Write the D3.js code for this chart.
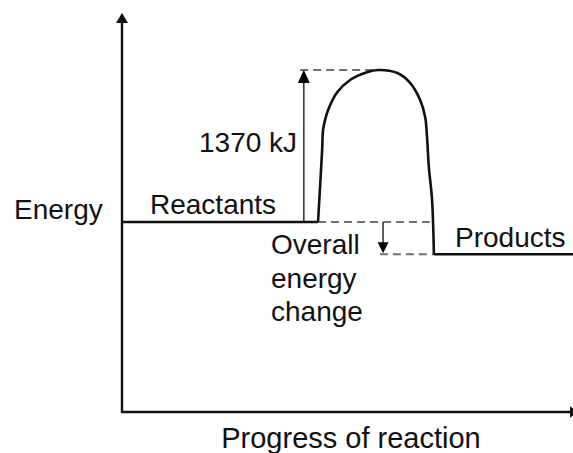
<!DOCTYPE html>
<html>
<head>
<meta charset="utf-8">
<script src="https://cdn.jsdelivr.net/npm/d3@7"></script>
<style>
  html, body { margin: 0; padding: 0; background: #fff; }
  svg { display: block; }
</style>
</head>
<body>
<svg id="diagram"></svg>
<script>
// energy profile data (energy in kJ, progress in arbitrary units 0..100)
const levelNames = ['Reactants', 'Products'];
const levelEnergy = [0, -290];
const levelFrom = [0, 68.1];
const levelTo = [42.8, 100];

const curveProgress = [42.8, 43.7, 43.9, 44.4, 45.0, 46.9, 49.8, 53.5, 55.9, 60.0, 62.9, 65.1, 66.2, 66.6, 67.0, 67.7, 68.1];
const curveEnergy = [0, 650, 830, 930, 1010, 1165, 1280, 1350, 1370, 1345, 1255, 1100, 945, 765, 495, 200, -290];

const activationEnergy = 1370;
const activationLabel = '1370 kJ';
const changeLabel = ['Overall', 'energy', 'change'];
const axisTitles = ['Progress of reaction', 'Energy'];

function validateSettings(settings) {
    settings.svg = settings.svg || document.getElementById(settings.id);
    settings.d3svg = d3.select(settings.svg);
    settings.width = settings.width || 573;
    settings.height = settings.height || 453;
    settings.fontSize = settings.fontSize || 28;
    settings.fontFamily = settings.fontFamily || '"Liberation Sans", Arial, sans-serif';
    settings.style = settings.style || {
        color: '#111',
        dashColor: '#707070',
        arrowColor: '#3a3a3a'
    };
    return settings;
}

function prepareScales(settings) {
    settings.x = d3.scaleLinear().domain([0, 100]).range([122, 580]);
    settings.y = d3.scaleLinear().domain([-1712, 1884]).range([412, 13]);
}

function arrowHead(g, x, y, w, h, dir, color) {
    // dir: 'up', 'down', 'right'
    let pts;
    if (dir === 'up') pts = [[x, y], [x - w / 2, y + h], [x + w / 2, y + h]];
    else if (dir === 'down') pts = [[x, y], [x - w / 2, y - h], [x + w / 2, y - h]];
    else pts = [[x, y], [x - h, y - w / 2], [x - h, y + w / 2]];
    g.append('path')
        .attr('d', 'M' + pts.map(p => p.join(',')).join('L') + 'Z')
        .attr('fill', color);
}

function drawAxis(settings) {
    let x = settings.x, y = settings.y, g = settings.g, c = settings.style.color;
    let x0 = x.range()[0], x1 = x.range()[1];
    let y0 = y.range()[0], y1 = y.range()[1];

    g.append('line')
        .attr('x1', x0).attr('y1', y0 + 1)
        .attr('x2', x0).attr('y2', y1 + 8)
        .style('stroke', c).style('stroke-width', 2.4);
    arrowHead(g, x0, y1, 12, 10, 'up', c);

    g.append('line')
        .attr('x1', x0 - 1).attr('y1', y0)
        .attr('x2', x1 - 8).attr('y2', y0)
        .style('stroke', c).style('stroke-width', 2.4);
    arrowHead(g, x1, y0, 11, 10, 'right', c);

    g.append('text')
        .attr('x', 351).attr('y', 448)
        .attr('text-anchor', 'middle')
        .style('font-size', (settings.fontSize + 1) + 'px')
        .text(axisTitles[0]);

    g.append('text')
        .attr('x', 14).attr('y', 219)
        .text(axisTitles[1]);
}

function drawDashes(settings) {
    let x = settings.x, y = settings.y, g = settings.g;
    let dashes = [
        [38.9, 55.9, activationEnergy],
        [42.8, 67.2, levelEnergy[0]],
        [56.3, 68.1, levelEnergy[1]]
    ];
    g.selectAll('.dash')
        .data(dashes).enter().append('line')
        .attr('class', 'dash')
        .attr('x1', d => x(d[0])).attr('x2', d => x(d[1]))
        .attr('y1', d => y(d[2])).attr('y2', d => y(d[2]))
        .style('stroke', settings.style.dashColor)
        .style('stroke-width', 2)
        .style('stroke-dasharray', '8,5');
}

function drawProfile(settings) {
    let x = settings.x, y = settings.y, g = settings.g, c = settings.style.color;

    g.selectAll('.level')
        .data(levelNames).enter().append('line')
        .attr('class', 'level')
        .attr('x1', (d, i) => x(levelFrom[i]))
        .attr('x2', (d, i) => x(levelTo[i]))
        .attr('y1', (d, i) => y(levelEnergy[i]))
        .attr('y2', (d, i) => y(levelEnergy[i]))
        .style('stroke', c).style('stroke-width', 2.4);

    let pts = curveProgress.map((p, i) => [p, curveEnergy[i]]);
    let line = d3.line()
        .x(d => x(d[0]))
        .y(d => y(d[1]))
        .curve(d3.curveCatmullRom.alpha(0.5));
    g.append('path')
        .attr('d', line(pts))
        .attr('fill', 'none')
        .style('stroke', c).style('stroke-width', 2.6)
        .style('stroke-linejoin', 'round');
}

function drawArrows(settings) {
    let x = settings.x, y = settings.y, g = settings.g, a = settings.style.arrowColor;

    // activation energy arrow
    let ax = x(39.7);
    g.append('line')
        .attr('x1', ax).attr('y1', y(levelEnergy[0]))
        .attr('x2', ax).attr('y2', y(activationEnergy) + 10)
        .style('stroke', a).style('stroke-width', 1.6);
    arrowHead(g, ax, y(activationEnergy), 12, 13, 'up', '#000');

    // overall change arrow
    let bx = x(57.0);
    g.append('line')
        .attr('x1', bx).attr('y1', y(levelEnergy[0]))
        .attr('x2', bx).attr('y2', y(levelEnergy[1]) - 8)
        .style('stroke', a).style('stroke-width', 1.6);
    arrowHead(g, bx, y(levelEnergy[1]) - 1, 11, 11, 'down', '#000');
}

function drawLabels(settings) {
    let g = settings.g;
    g.append('text').attr('x', 150).attr('y', 214).text(levelNames[0]);
    g.append('text').attr('x', 455).attr('y', 247).text(levelNames[1]);
    g.append('text').attr('x', 199).attr('y', 152).text(activationLabel);
    g.selectAll('.change')
        .data(changeLabel).enter().append('text')
        .attr('class', 'change')
        .attr('x', 271)
        .attr('y', (d, i) => 254 + i * 33.5)
        .text(d => d);
}

function drawEnergyDiagram(settings) {
    validateSettings(settings);
    let d3svg = settings.d3svg;
    d3svg.selectAll('*').remove();
    d3svg.attr('width', settings.width).attr('height', settings.height);

    settings.g = d3svg.append('g')
        .style('font-family', settings.fontFamily)
        .style('font-size', settings.fontSize + 'px')
        .style('fill', settings.style.color);

    prepareScales(settings);
    drawDashes(settings);
    drawArrows(settings);
    drawProfile(settings);
    drawAxis(settings);
    drawLabels(settings);
}

drawEnergyDiagram({ id: 'diagram' });
</script>
</body>
</html>
